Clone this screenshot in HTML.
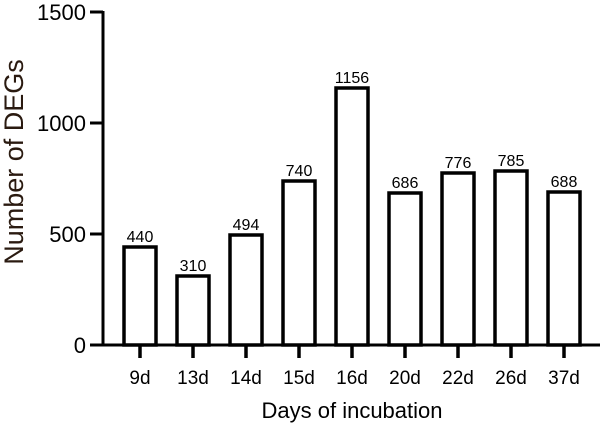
<!DOCTYPE html><html><head><style>body{margin:0;background:#fff}</style></head><body>
<svg width="608" height="429" xmlns="http://www.w3.org/2000/svg" font-family="Liberation Sans, sans-serif">
<g stroke="#000" stroke-width="3" fill="none">
<line x1="103" y1="11" x2="103" y2="346"/>
<line x1="102" y1="345" x2="600" y2="345"/>
<line x1="90" y1="345" x2="103" y2="345"/>
<line x1="90" y1="234" x2="103" y2="234"/>
<line x1="90" y1="123" x2="103" y2="123"/>
<line x1="90" y1="12" x2="103" y2="12"/>
</g>
<g font-size="22" text-anchor="end" fill="#000">
<text x="86" y="353">0</text><text x="86" y="242">500</text><text x="86" y="131">1000</text><text x="86" y="20">1500</text>
</g>
<text transform="translate(23,162) rotate(-90)" font-size="27" text-anchor="middle" fill="#2a1a10">Number of DEGs</text>
<text x="352" y="418" font-size="22" text-anchor="middle">Days of incubation</text>
<g stroke="#000" stroke-width="3.5" fill="#fff">
<rect x="124" y="247" width="32" height="98"/>
<rect x="177" y="276" width="32" height="69"/>
<rect x="230" y="235" width="32" height="110"/>
<rect x="283" y="181" width="32" height="164"/>
<rect x="336" y="88" width="32" height="257"/>
<rect x="389" y="193" width="32" height="152"/>
<rect x="442" y="173" width="32" height="172"/>
<rect x="495" y="171" width="32" height="174"/>
<rect x="548" y="192" width="32" height="153"/>
<line x1="140" y1="345" x2="140" y2="358"/>
<line x1="193" y1="345" x2="193" y2="358"/>
<line x1="246" y1="345" x2="246" y2="358"/>
<line x1="299" y1="345" x2="299" y2="358"/>
<line x1="352" y1="345" x2="352" y2="358"/>
<line x1="405" y1="345" x2="405" y2="358"/>
<line x1="458" y1="345" x2="458" y2="358"/>
<line x1="511" y1="345" x2="511" y2="358"/>
<line x1="564" y1="345" x2="564" y2="358"/>
</g>
<g font-size="16" text-anchor="middle" fill="#000">
<text x="140" y="242">440</text>
<text x="193" y="271">310</text>
<text x="246" y="230">494</text>
<text x="299" y="176">740</text>
<text x="352" y="83">1156</text>
<text x="405" y="188">686</text>
<text x="458" y="168">776</text>
<text x="511" y="166">785</text>
<text x="564" y="187">688</text>
</g>
<g font-size="19" text-anchor="middle" fill="#000">
<text x="140" y="384">9d</text><text x="193" y="384">13d</text><text x="246" y="384">14d</text>
<text x="299" y="384">15d</text><text x="352" y="384">16d</text><text x="405" y="384">20d</text>
<text x="458" y="384">22d</text><text x="511" y="384">26d</text><text x="564" y="384">37d</text>
</g>
</svg></body></html>
